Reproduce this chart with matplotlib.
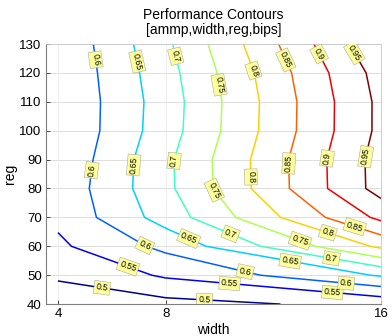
"""
Performance contours of bips over issue width and register count (ammp).
"""
import numpy as np
import matplotlib
matplotlib.use("Agg")
import matplotlib.pyplot as plt

# ── Data (bips) ────────────────────────────────────────────────────────────
widths = [4, 8, 16]
regs = [40, 50, 60, 70, 80, 90, 100, 110, 120, 130]
bips_w4 = [0.488, 0.503, 0.541, 0.560, 0.564, 0.557, 0.551, 0.551, 0.553, 0.556]
bips_w8 = [0.484, 0.557, 0.613, 0.672, 0.688, 0.689, 0.677, 0.675, 0.681, 0.690]
bips_w16 = [0.514, 0.655, 0.810, 0.912, 0.970, 0.971, 0.962, 0.962, 0.970, 0.995]
levels = [0.5, 0.55, 0.6, 0.65, 0.7, 0.75, 0.8, 0.85, 0.9, 0.95]
x_ticks = [4, 8, 16]

# MATLAB-style jet colours, one per level
level_colors = ["#00008f", "#0000ef", "#0060ff", "#00cfff", "#40ffbf",
                "#afff50", "#ffcf00", "#ff6000", "#f00000", "#800000"]

# label anchor points (width, reg), one per label in the reference
label_pos = [(5.63, 45.2), (9.44, 41.1),
             (6.59, 52.6), (10.37, 46.6), (14.19, 43.4),
             (5.41, 124.6), (5.19, 86.4), (7.15, 59.0), (10.93, 50.3), (14.7, 46.6),
             (6.89, 123.8), (6.89, 88.1), (8.81, 61.6), (12.6, 53.5),
             (8.30, 125.6), (8.44, 89.6), (10.37, 63.3), (14.15, 55.2),
             (9.93, 115.8), (9.74, 78.9), (12.96, 61.0),
             (11.15, 120.4), (11.22, 84.0), (14.0, 63.9),
             (12.4, 124.2), (12.6, 88.7), (15.0, 66.0),
             (13.63, 126.2), (14.0, 90.4),
             (14.93, 126.5), (15.44, 91.0)]

W, R = np.meshgrid(widths, regs)
Z = np.column_stack([bips_w4, bips_w8, bips_w16])

plt.rcParams["font.family"] = ["Liberation Sans", "DejaVu Sans"]

fig = plt.figure(figsize=(3.92, 3.36), dpi=100)
ax = fig.add_axes([0.117, 0.095, 0.855, 0.774])

# grid
for r in regs:
    ax.axhline(r, color="#d8d8d8", linewidth=0.6, zorder=0)
for w in [4, 8]:
    ax.axvline(w, color="#ebebeb", linewidth=0.6, zorder=0)

cs = ax.contour(W, R, Z, levels=levels, colors=level_colors, linewidths=1.1)
texts = ax.clabel(cs, manual=label_pos, inline=False, fontsize=6.3, fmt="%g",
                  colors="black")
for t in texts:
    t.set_bbox(dict(boxstyle="square,pad=0.22", facecolor="#ffff99",
                    edgecolor="#a8a8a8", linewidth=0.4))

ax.set_xlim(3.55, 16)
ax.set_ylim(40, 130)
ax.set_xticks(x_ticks)
ax.set_yticks(regs)
ax.tick_params(direction="in", length=3, width=0.6, labelsize=9.5,
               colors="#303030", pad=3)
ax.tick_params(axis="both", labelcolor="black")

for side in ["left", "bottom"]:
    ax.spines[side].set_color("#7f7f7f")
    ax.spines[side].set_linewidth(0.8)
for side in ["top", "right"]:
    ax.spines[side].set_color("#c8c8c8")
    ax.spines[side].set_linewidth(0.6)

ax.set_xlabel("width", fontsize=10, labelpad=2)
ax.set_ylabel("reg", fontsize=10, labelpad=2)
ax.set_title("Performance Contours\n[ammp,width,reg,bips]", fontsize=10,
             pad=7, linespacing=1.15)

plt.savefig("out.png", dpi=100)
